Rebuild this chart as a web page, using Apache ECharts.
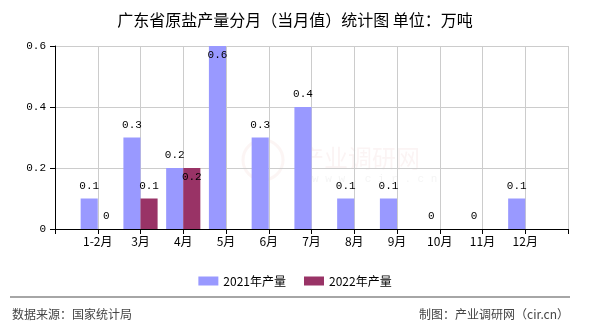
<!DOCTYPE html>
<html>
<head>
<meta charset="utf-8">
<script src="https://cdn.jsdelivr.net/npm/echarts@6/dist/echarts.min.js"></script>
<style>
  html, body { margin: 0; padding: 0; background: #fff; }
  #chart { width: 590px; height: 330px; }
</style>
</head>
<body>
<div id="chart"></div>
<script>
// Monthly categories and output values (unit: 万吨)
const months = ['1-2月', '3月', '4月', '5月', '6月', '7月', '8月', '9月', '10月', '11月', '12月'];
const output2021 = [0.1, 0.3, 0.2, 0.6, 0.3, 0.4, 0.1, 0.1, 0, 0, 0.1];
const output2022 = [0, 0.1, 0.2, null, null, null, null, null, null, null, null];
const seriesNames = ['2021年产量', '2022年产量'];
const yTicks = [0, 0.2, 0.4, 0.6];

const titleText = '广东省原盐产量分月（当月值）统计图 单位：万吨';
const sourceText = '数据来源：国家统计局';
const creditText = '制图：产业调研网（cir.cn）';

// Labels that sit inside the top of their bar instead of above it
const insideLabels = { '2021年产量': ['5月'], '2022年产量': ['4月'] };

const cjk = '"Noto Sans CJK SC", "Liberation Sans", sans-serif';
const mono = '"Liberation Mono", "DejaVu Sans Mono", monospace';

// Empty slots at both ends so every month sits on a tick
const axisData = [''].concat(months, ['']);

function buildData(name, values) {
  const padded = [null].concat(values, [null]);
  return padded.map((v, i) => {
    const cat = axisData[i];
    if (v !== null && insideLabels[name].indexOf(cat) >= 0) {
      return { value: v, label: { position: 'insideTop', distance: 4 } };
    }
    return v;
  });
}

const colors = ['#9999FF', '#993366'];

const chart = echarts.init(document.getElementById('chart'), null, { renderer: 'canvas' });

chart.setOption({
  animation: false,
  backgroundColor: '#fff',
  title: {
    text: titleText,
    left: 'center',
    top: 7,
    textStyle: { fontFamily: cjk, fontSize: 16, fontWeight: 'normal', color: '#000' }
  },
  legend: {
    data: seriesNames,
    top: 270,
    left: 'center',
    icon: 'rect',
    itemWidth: 20,
    itemHeight: 9,
    itemGap: 18,
    textStyle: { fontFamily: cjk, fontSize: 12, color: '#000' }
  },
  grid: { left: 55, right: 22, top: 46, bottom: 101, containLabel: false },
  xAxis: {
    type: 'category',
    data: axisData,
    boundaryGap: false,
    axisLine: { lineStyle: { color: '#000', width: 1 } },
    axisTick: { show: true, interval: 0, length: 5, lineStyle: { color: '#000' } },
    axisLabel: { interval: 0, fontFamily: cjk, fontSize: 12, color: '#000', margin: 6 },
    splitLine: { show: true, interval: 0, lineStyle: { color: '#cccccc', width: 1 } }
  },
  yAxis: {
    type: 'value',
    min: yTicks[0],
    max: yTicks[yTicks.length - 1],
    interval: yTicks[1] - yTicks[0],
    axisLine: { show: true, lineStyle: { color: '#000', width: 1 } },
    axisTick: { show: true, length: 5, lineStyle: { color: '#000' } },
    axisLabel: {
      fontFamily: mono, fontSize: 11, color: '#000', margin: 9,
      formatter: v => String(Math.round(v * 10) / 10)
    },
    splitLine: { show: true, lineStyle: { color: '#cccccc', width: 1 } }
  },
  series: [output2021, output2022].map((vals, k) => ({
    name: seriesNames[k],
    type: 'bar',
    data: buildData(seriesNames[k], vals),
    barWidth: '40%',
    barGap: '0%',
    itemStyle: { color: colors[k] },
    label: {
      show: true,
      position: 'top',
      distance: 7,
      fontFamily: mono,
      fontSize: 11,
      color: '#000',
      formatter: p => String(p.value)
    }
  })),
  graphic: [
    // faint site watermark behind the plot
    {
      type: 'text', left: 300, top: 146, silent: true, z: -1,
      style: { text: '产业调研网', fontFamily: cjk, fontSize: 24, fill: 'rgba(210,120,120,0.08)' }
    },
    {
      type: 'text', left: 312, top: 174, silent: true, z: -1,
      style: { text: 'w w w . c i r . c n', fontFamily: mono, fontSize: 11, fill: 'rgba(150,150,150,0.10)' }
    },
    {
      type: 'circle', shape: { cx: 263, cy: 160, r: 20 }, silent: true, z: -1,
      style: { fill: 'none', stroke: 'rgba(220,130,120,0.08)', lineWidth: 3 }
    },
    // footer rule and credits
    {
      type: 'line', shape: { x1: 10, y1: 297, x2: 570, y2: 297 },
      style: { stroke: '#888', lineWidth: 1.5 }
    },
    {
      type: 'text', left: 12, top: 308,
      style: { text: sourceText, fontFamily: cjk, fontSize: 12, fill: '#444' }
    },
    {
      type: 'text', right: 21, top: 308,
      style: { text: creditText, fontFamily: cjk, fontSize: 12, fill: '#444' }
    }
  ]
});
</script>
</body>
</html>
